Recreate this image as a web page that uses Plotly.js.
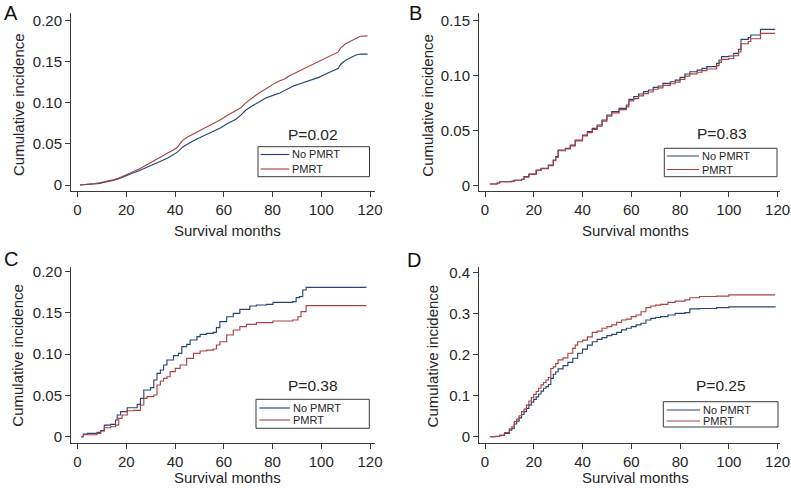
<!DOCTYPE html>
<html>
<head>
<meta charset="utf-8">
<script src="https://cdn.plot.ly/plotly-3.0.1.min.js"></script>
<style>html,body{margin:0;padding:0;background:#fff;}#chart{width:791px;height:488px;}</style>
</head>
<body>
<div id="chart"></div>
<script>
// ---------- DATA ----------
var panelLetters = ['A', 'B', 'C', 'D'];
var pValueLabels = ['P=0.02', 'P=0.83', 'P=0.38', 'P=0.25'];
var seriesNames = ['No PMRT', 'PMRT'];
var xTitle = 'Survival months';
var yTitle = 'Cumulative incidence';
var xTickVals = [0, 20, 40, 60, 80, 100, 120];
var xTickText = ['0', '20', '40', '60', '80', '100', '120'];
var yTickValsAC = [0, 0.05, 0.10, 0.15, 0.20];
var yTickTextAC = ['0', '0.05', '0.10', '0.15', '0.20'];
var yTickValsB = [0, 0.05, 0.10, 0.15];
var yTickTextB = ['0', '0.05', '0.10', '0.15'];
var yTickValsD = [0, 0.1, 0.2, 0.3, 0.4];
var yTickTextD = ['0', '0.1', '0.2', '0.3', '0.4'];

// Panel A
var aNoMonths = [1,3,5,7,9,11,13,15,17,19,21,23,25,27,29,31,33,35,37,39,41,43,45,47,49,51,53,55,57,59,61,63,65,67,69,71,73,75,77,79,81,83,85,87,89,91,93,95,97,99,101,103,105,107,108,110,112,114,116,119];
var aNoValues = [0,0.0002,0.0008,0.0013,0.002,0.003,0.0042,0.0057,0.0078,0.0105,0.013,0.015,0.017,0.0195,0.022,0.0245,0.0275,0.030,0.033,0.036,0.040,0.046,0.050,0.053,0.056,0.059,0.062,0.064,0.067,0.070,0.074,0.077,0.080,0.085,0.091,0.095,0.099,0.102,0.1055,0.108,0.110,0.112,0.115,0.118,0.121,0.123,0.125,0.127,0.129,0.131,0.134,0.137,0.140,0.142,0.147,0.152,0.155,0.158,0.1594,0.1594];
var aPmMonths = [1,3,5,7,9,11,13,15,17,19,21,23,25,27,29,31,33,35,37,39,41,42,43,45,47,49,51,53,55,57,59,61,63,65,67,69,71,73,75,77,79,81,83,85,87,89,91,93,95,97,99,101,103,105,107,108,110,112,114,116,119];
var aPmValues = [0,0.0003,0.001,0.0018,0.0028,0.0038,0.005,0.0065,0.0085,0.0115,0.014,0.0165,0.019,0.0225,0.026,0.029,0.0325,0.0355,0.039,0.042,0.046,0.050,0.054,0.058,0.061,0.064,0.068,0.071,0.074,0.077,0.080,0.084,0.087,0.090,0.094,0.100,0.105,0.109,0.113,0.117,0.121,0.124,0.127,0.129,0.133,0.136,0.139,0.141,0.144,0.147,0.150,0.153,0.156,0.159,0.162,0.167,0.172,0.175,0.178,0.181,0.1815];

// Panel B
var bNoMonths = [2,5,6,11,12,15,16,18,21,23,26,28,29,30,33,35,37,40,42,44,46,48,50,52,55,58,59,61,63,65,67,69,71,73,76,78,80,82,84,87,89,91,93,95,96,97,100,102,104,105,108,109,113,119];
var bNoValues = [0.0012,0.0021,0.0033,0.0036,0.0046,0.0055,0.0079,0.0103,0.014,0.0155,0.0185,0.0231,0.0261,0.0322,0.0337,0.0367,0.0413,0.0458,0.0489,0.0519,0.055,0.0595,0.0641,0.0671,0.0701,0.0732,0.0783,0.0808,0.0832,0.0853,0.0868,0.0893,0.0905,0.0929,0.0944,0.0959,0.0984,0.1014,0.1035,0.105,0.1066,0.1081,0.1081,0.1111,0.1142,0.1172,0.1178,0.1202,0.1239,0.133,0.1345,0.1369,0.1421,0.1421];
var bPmMonths = [2,5,6,11,12,15,16,18,21,23,26,28,29,30,33,35,37,40,42,44,46,48,50,52,55,58,59,61,63,65,67,69,71,73,76,78,80,82,84,87,89,91,93,95,96,97,100,102,104,105,108,109,113,119];
var bPmValues = [0.0012,0.0021,0.0033,0.0036,0.0046,0.0055,0.0075,0.0100,0.0135,0.0152,0.018,0.0225,0.0255,0.0315,0.0332,0.036,0.0405,0.045,0.048,0.051,0.054,0.0585,0.063,0.066,0.069,0.0715,0.077,0.079,0.0815,0.0835,0.085,0.0875,0.0888,0.091,0.0925,0.094,0.0965,0.0995,0.1015,0.103,0.1045,0.106,0.106,0.109,0.112,0.1148,0.1155,0.118,0.1215,0.129,0.131,0.1335,0.1384,0.1384];

// Panel C
var cNoMonths = [1.4,2.4,4,8,9.5,11,13.6,15.6,16.3,17.7,20.4,23,24.5,25.8,27.2,30,31.3,32.6,34,35.3,36.7,39.4,41.4,42.8,44.8,46.2,49,50.3,53,55.7,57,58.4,61.2,63.9,66.6,70.7,73.4,77.5,80.2,88.3,89.7,91,92.4,93.8,118.5];
var cNoValues = [0,0.0032,0.004,0.0053,0.0073,0.0141,0.0149,0.0202,0.0263,0.0303,0.0351,0.0351,0.0392,0.0465,0.0566,0.0594,0.0687,0.0768,0.0808,0.0869,0.0929,0.0982,0.101,0.1091,0.1119,0.1172,0.1212,0.124,0.1252,0.1265,0.1321,0.1394,0.1454,0.1495,0.1543,0.1584,0.1596,0.1604,0.1628,0.1636,0.1685,0.1697,0.1778,0.181,0.181];
var cPmMonths = [1.4,2.4,8,9.5,11,13.6,15.6,16.9,18.3,20.4,23,25.8,27.2,28.5,31.3,32.6,34,35.3,36.7,38,40.1,42.1,44.8,47.6,50.3,53,55.7,57,58.4,61.2,63.9,66.6,69.3,73.4,77.5,80.2,88.3,90.4,91.7,93.8,118.5];
var cPmValues = [0,0.0024,0.004,0.0069,0.0109,0.0121,0.0141,0.0222,0.0263,0.0315,0.0319,0.0384,0.0465,0.0485,0.0505,0.0626,0.0675,0.0707,0.0727,0.0788,0.0828,0.0869,0.0949,0.101,0.1038,0.105,0.1063,0.1111,0.1151,0.1232,0.1293,0.1333,0.1361,0.1382,0.1382,0.1402,0.1414,0.1454,0.1515,0.1588,0.1588];

// Panel D
var dNoMonths = [2,4,6,8,10,11,12,13,14,15,16,17,18,19,20,21,22,23,24,25,26,27,28,29,30,32,34,36,38,40,42,44,46,48,50,52,54,56,58,60,62,64,66,68,70,72,75,78,82,84,88,95,100,119];
var dNoValues = [0,0.0005,0.003,0.008,0.016,0.020,0.031,0.038,0.046,0.054,0.061,0.069,0.077,0.084,0.091,0.097,0.104,0.111,0.118,0.122,0.127,0.142,0.152,0.158,0.165,0.173,0.181,0.191,0.203,0.213,0.223,0.231,0.237,0.241,0.246,0.249,0.254,0.260,0.264,0.268,0.272,0.276,0.284,0.288,0.290,0.292,0.296,0.300,0.302,0.311,0.312,0.314,0.316,0.317];
var dPmMonths = [2,4,6,8,10,11,12,13,14,15,16,17,18,19,20,21,22,23,24,25,26,27,28,29,30,32,34,36,37,38,40,42,44,46,48,50,52,54,56,58,60,62,64,66,68,70,72,75,78,82,84,88,95,100,119];
var dPmValues = [0,0.001,0.004,0.010,0.019,0.024,0.037,0.043,0.051,0.061,0.067,0.077,0.087,0.095,0.103,0.110,0.118,0.126,0.132,0.138,0.144,0.166,0.170,0.178,0.187,0.192,0.203,0.215,0.223,0.231,0.235,0.243,0.254,0.257,0.264,0.268,0.272,0.278,0.284,0.286,0.292,0.296,0.304,0.314,0.318,0.320,0.322,0.327,0.330,0.333,0.338,0.341,0.342,0.345,0.345];

// ---------- STYLE ----------
var W = 791, H = 488;
var FONT = 'Liberation Sans, Arial, Helvetica, sans-serif';
var TXT = '#262626';
var AX = '#3a3a3a';
var BLUE = '#284675';
var RED = '#ad4242';
var LW = 1.15;

function px(x) { return x / W; }
function py(y) { return 1 - y / H; }

var panels = [
  {noX: aNoMonths, noY: aNoValues, pmX: aPmMonths, pmY: aPmValues, shape: 'linear'},
  {noX: bNoMonths, noY: bNoValues, pmX: bPmMonths, pmY: bPmValues, shape: 'hv'},
  {noX: cNoMonths, noY: cNoValues, pmX: cPmMonths, pmY: cPmValues, shape: 'hv'},
  {noX: dNoMonths, noY: dNoValues, pmX: dPmMonths, pmY: dPmValues, shape: 'hv'}
];

var traces = [];
panels.forEach(function (p, i) {
  var sfx = i === 0 ? '' : String(i + 1);
  traces.push({x: p.noX, y: p.noY, type: 'scatter', mode: 'lines', name: seriesNames[0], showlegend: false,
    line: {color: BLUE, width: LW, shape: p.shape}, xaxis: 'x' + sfx, yaxis: 'y' + sfx});
  traces.push({x: p.pmX, y: p.pmY, type: 'scatter', mode: 'lines', name: seriesNames[1], showlegend: false,
    line: {color: RED, width: LW, shape: p.shape}, xaxis: 'x' + sfx, yaxis: 'y' + sfx});
});

function xax(dom, range, anchor) {
  return {domain: dom, range: range, anchor: anchor, tickmode: 'array', tickvals: xTickVals, ticktext: xTickText,
    showline: true, linecolor: AX, linewidth: 1, ticks: 'outside', ticklen: 5, tickwidth: 1, tickcolor: AX,
    showgrid: false, zeroline: false, automargin: false, tickfont: {family: FONT, size: 15, color: TXT}};
}
function yax(dom, range, anchor, tv, tt) {
  return {domain: dom, range: range, anchor: anchor, tickmode: 'array', tickvals: tv, ticktext: tt,
    showline: true, linecolor: AX, linewidth: 1, ticks: 'outside', ticklen: 5, tickwidth: 1, tickcolor: AX,
    showgrid: false, zeroline: false, automargin: false, tickfont: {family: FONT, size: 15, color: TXT}};
}

var xLeft = [px(71), px(375)], xRight = [px(479), px(780)];
var yTop = [py(190.5), py(13.3)], yBot = [py(443.3), py(266.7)];

// ---------- TEXT & LEGEND BOXES ----------
var annotations = [];
var shapes = [];
var letterY = [1, 1, py(246), py(247)];
var letterX = [2, 406.7, 2, 405];
var yTitlePos = [[18, 105], [426.7, 105], [18, 355.7], [432.7, 355.7]];
var xTitlePos = [[227.5, 230], [635.7, 230], [227.5, null], [635.7, null]];
var pPos = [[312.8, 134], [721.7, 133.3], [313.3, 385], [720.8, 385]];
// legend box: [left, right, top, bottom, row1, row2, lineStart, lineEnd, textStart]
var legBoxes = [
  [258, 369.5, 146.7, 176.7, 154.5, 169, 260.7, 289.3, 290.7],
  [664.3, 777, 148.3, 176.7, 156, 169.5, 666.7, 699, 700.5],
  [256, 369.3, 399.3, 428.3, 408, 420, 259.3, 290, 292],
  [663.3, 778, 401.7, 427, 410, 421, 666.7, 700, 701.7]
];
for (var i = 0; i < 4; i++) {
  annotations.push({text: panelLetters[i], xref: 'paper', yref: 'paper', x: px(letterX[i]), y: letterY[i],
    xanchor: 'left', yanchor: 'top', showarrow: false, font: {family: FONT, size: 20, color: '#111'}});
  annotations.push({text: yTitle, xref: 'paper', yref: 'paper', x: px(yTitlePos[i][0]), y: py(yTitlePos[i][1]),
    xanchor: 'center', yanchor: 'middle', textangle: -90, showarrow: false, font: {family: FONT, size: 15, color: TXT}});
  if (xTitlePos[i][1] === null) {
    annotations.push({text: xTitle, xref: 'paper', yref: 'paper', x: px(xTitlePos[i][0]), y: 0,
      xanchor: 'center', yanchor: 'bottom', showarrow: false, font: {family: FONT, size: 15, color: TXT}});
  } else {
    annotations.push({text: xTitle, xref: 'paper', yref: 'paper', x: px(xTitlePos[i][0]), y: py(xTitlePos[i][1]),
      xanchor: 'center', yanchor: 'middle', showarrow: false, font: {family: FONT, size: 15, color: TXT}});
  }
  annotations.push({text: pValueLabels[i], xref: 'paper', yref: 'paper', x: px(pPos[i][0]), y: py(pPos[i][1]),
    xanchor: 'center', yanchor: 'middle', showarrow: false, font: {family: FONT, size: 15.5, color: TXT}});

  var b = legBoxes[i];
  shapes.push({type: 'rect', xref: 'paper', yref: 'paper', x0: px(b[0]), x1: px(b[1]), y0: py(b[3]), y1: py(b[2]),
    line: {color: AX, width: 1}, fillcolor: 'rgba(0,0,0,0)'});
  shapes.push({type: 'line', xref: 'paper', yref: 'paper', x0: px(b[6]), x1: px(b[7]), y0: py(b[4]), y1: py(b[4]),
    line: {color: BLUE, width: LW}});
  shapes.push({type: 'line', xref: 'paper', yref: 'paper', x0: px(b[6]), x1: px(b[7]), y0: py(b[5]), y1: py(b[5]),
    line: {color: RED, width: LW}});
  annotations.push({text: seriesNames[0], xref: 'paper', yref: 'paper', x: px(b[8]), y: py(b[4]),
    xanchor: 'left', yanchor: 'middle', showarrow: false, borderpad: 0, font: {family: FONT, size: 11, color: TXT}});
  annotations.push({text: seriesNames[1], xref: 'paper', yref: 'paper', x: px(b[8]), y: py(b[5]),
    xanchor: 'left', yanchor: 'middle', showarrow: false, borderpad: 0, font: {family: FONT, size: 11, color: TXT}});
}

var layout = {
  width: W, height: H,
  margin: {l: 0, r: 0, t: 0, b: 0, pad: 0},
  paper_bgcolor: '#fff', plot_bgcolor: '#fff',
  showlegend: false,
  font: {family: FONT, color: TXT},
  xaxis: xax(xLeft, [-2.67, 122.05], 'y'),
  yaxis: yax(yTop, [-0.0067, 0.209], 'x', yTickValsAC, yTickTextAC),
  xaxis2: xax(xRight, [-2.46, 121.0], 'y2'),
  yaxis2: yax(yTop, [-0.0047, 0.1567], 'x2', yTickValsB, yTickTextB),
  xaxis3: xax(xLeft, [-2.67, 122.05], 'y3'),
  yaxis3: yax(yBot, [-0.008, 0.206], 'x3', yTickValsAC, yTickTextAC),
  xaxis4: xax(xRight, [-2.46, 121.0], 'y4'),
  yaxis4: yax(yBot, [-0.016, 0.4136], 'x4', yTickValsD, yTickTextD),
  shapes: shapes,
  annotations: annotations
};

Plotly.newPlot('chart', traces, layout, {displayModeBar: false, staticPlot: true});
</script>
</body>
</html>
